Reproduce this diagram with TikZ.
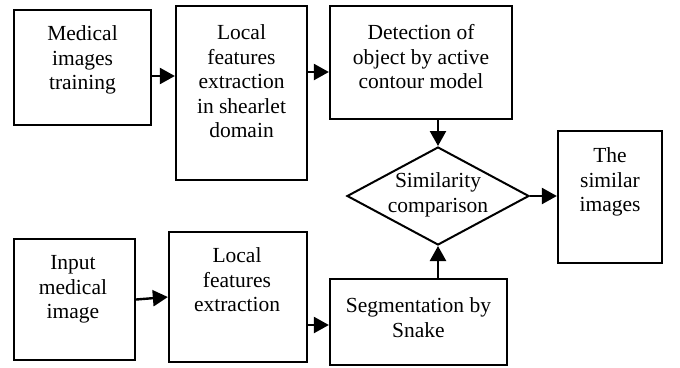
\documentclass[tikz,border=0pt]{standalone}
\usepackage{fontspec}
\setmainfont{Liberation Serif}
\usetikzlibrary{shapes.geometric,arrows.meta}
\begin{document}
\begin{tikzpicture}[x=1pt,y=-1pt,
  box/.style={draw,line width=2.3pt,rectangle,inner sep=0pt},
  lbl/.style={anchor=north,align=center,inner sep=0pt,font=\fontsize{21.5}{24.5}\selectfont},
  arr/.style={line width=2.4pt,-{Triangle[length=15pt,width=16pt]}}]
\useasboundingbox (0,0) rectangle (680,367);
% boxes
\node[box,minimum width=137pt,minimum height=115pt] (b1) at (82.5,67.5) {};
\node[box,minimum width=131pt,minimum height=174pt] (b2) at (241.5,93) {};
\node[box,minimum width=182pt,minimum height=113pt] (b3) at (421,62.5) {};
\node[draw,line width=2pt,diamond,inner sep=0pt,minimum width=182pt,minimum height=98pt] (d) at (438,196) {};
\node[box,minimum width=104pt,minimum height=132pt] (b4) at (610,197) {};
\node[box,minimum width=121pt,minimum height=121pt] (b5) at (74.5,299.5) {};
\node[box,minimum width=138pt,minimum height=130pt] (b6) at (238,297) {};
\node[box,minimum width=177pt,minimum height=86pt] (b7) at (418.5,322) {};
% labels
\node[lbl] (t1) at (82.5,25.5) {Medical\\images\\training};
\node[lbl] (t2) at (241.5,24.5) {Local\\features\\extraction\\in shearlet\\domain};
\node[lbl] (t3) at (421,24.5) {Detection of\\object by active\\contour model};
\node[lbl] (t4) at (438,172.5) {Similarity\\comparison};
\node[lbl] (t5) at (610,147.5) {The\\similar\\images};
\node[lbl] (t6) at (73,255.5) {Input\\medical\\image};
\node[lbl] (t7) at (237,247.5) {Local\\features\\extraction};
\node[lbl] (t8) at (418.5,297.5) {Segmentation by\\Snake};
% arrows
\draw[arr] (b1.east |- 0,76) -- (b2.west |- 0,76);
\draw[arr] (b2.east |- 0,72) -- (b3.west |- 0,72);
\draw[arr] (d.north |- b3.south) -- (d.north);
\draw[arr] (d.east) -- (b4.west |- d.east);
\draw[arr] (b5.east) -- (b6.west);
\draw[arr] (b6.east |- 0,325) -- (b7.west |- 0,325);
\draw[arr] (d.south |- b7.north) -- (d.south);
\end{tikzpicture}
\end{document}
